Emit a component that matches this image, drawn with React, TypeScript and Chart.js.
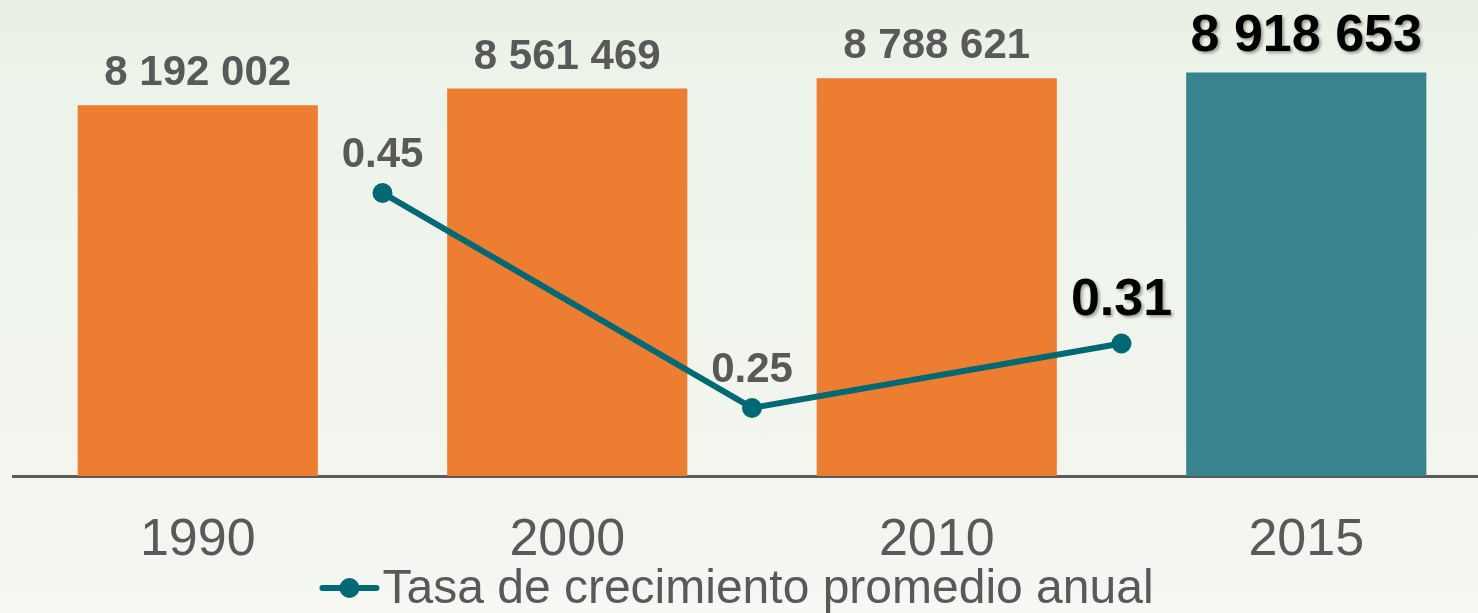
import React, { useEffect, useRef } from "react";
import { Chart, registerables } from "chart.js";

Chart.register(...registerables);

const categories = ["1990", "2000", "2010", "2015"];
const population = [8192002, 8561469, 8788621, 8918653];
const populationLabels = ["8 192 002", "8 561 469", "8 788 621", "8 918 653"];
const growthPositions = [0.5, 1.5, 2.5];
const growthRates = [0.45, 0.25, 0.31];
const growthLabels = ["0.45", "0.25", "0.31"];
const legendLabel = "Tasa de crecimiento promedio anual";

const FONT = "'Liberation Sans', Arial, sans-serif";
const GRAY = "#595959";
const ORANGE = "#ED7D31";
const TEAL_BAR = "#37838F";
const TEAL_LINE = "#006974";

const labelPlugin = {
  id: "valueLabels",
  afterDatasetsDraw(chart: any) {
    const ctx = chart.ctx;
    const barMeta = chart.getDatasetMeta(0);
    ctx.save();
    ctx.textAlign = "center";
    ctx.textBaseline = "alphabetic";
    barMeta.data.forEach((bar: any, i: number) => {
      const last = i === populationLabels.length - 1;
      ctx.save();
      if (last) {
        ctx.font = `bold 52px ${FONT}`;
        ctx.fillStyle = "#000000";
        ctx.shadowColor = "rgba(0,0,0,0.35)";
        ctx.shadowOffsetX = 2;
        ctx.shadowOffsetY = 2;
        ctx.shadowBlur = 3;
        ctx.fillText(populationLabels[i], bar.x, bar.y - 21);
      } else {
        ctx.font = `bold 42px ${FONT}`;
        ctx.fillStyle = GRAY;
        ctx.fillText(populationLabels[i], bar.x, bar.y - 20);
      }
      ctx.restore();
    });
    const lineMeta = chart.getDatasetMeta(1);
    lineMeta.data.forEach((pt: any, i: number) => {
      const last = i === growthLabels.length - 1;
      ctx.save();
      if (last) {
        ctx.font = `bold 52px ${FONT}`;
        ctx.fillStyle = "#000000";
        ctx.shadowColor = "rgba(0,0,0,0.35)";
        ctx.shadowOffsetX = 2;
        ctx.shadowOffsetY = 2;
        ctx.shadowBlur = 3;
        ctx.fillText(growthLabels[i], pt.x, pt.y - 28);
      } else {
        ctx.font = `bold 42px ${FONT}`;
        ctx.fillStyle = GRAY;
        ctx.fillText(growthLabels[i], pt.x, pt.y - 26);
      }
      ctx.restore();
    });
    ctx.restore();
  },
};

const legendPlugin = {
  id: "customLegend",
  afterDraw(chart: any) {
    const ctx = chart.ctx;
    ctx.save();
    ctx.font = `48px ${FONT}`;
    const tw = ctx.measureText(legendLabel).width;
    const lineW = 58;
    const gap = 4;
    const total = lineW + gap + tw;
    const cx = 737;
    const x0 = cx - total / 2;
    const y = chart.chartArea.bottom + 112;
    ctx.strokeStyle = TEAL_LINE;
    ctx.lineWidth = 6;
    ctx.lineCap = "round";
    ctx.beginPath();
    ctx.moveTo(x0 + 2, y);
    ctx.lineTo(x0 + lineW - 2, y);
    ctx.stroke();
    ctx.fillStyle = TEAL_LINE;
    ctx.beginPath();
    ctx.arc(x0 + lineW / 2, y, 10, 0, Math.PI * 2);
    ctx.fill();
    ctx.fillStyle = GRAY;
    ctx.textAlign = "left";
    ctx.textBaseline = "middle";
    ctx.fillText(legendLabel, x0 + lineW + gap, y + 2);
    ctx.restore();
  },
};

export default function App() {
  const ref = useRef<HTMLCanvasElement | null>(null);
  useEffect(() => {
    if (!ref.current) return;
    const chart = new Chart(ref.current, {
      type: "bar",
      data: {
        labels: categories,
        datasets: [
          {
            type: "bar",
            label: "Población",
            data: population,
            backgroundColor: [ORANGE, ORANGE, ORANGE, TEAL_BAR],
            barPercentage: 0.65,
            categoryPercentage: 1,
            grouped: false,
            xAxisID: "x",
            yAxisID: "y",
            order: 2,
          },
          {
            type: "line",
            label: legendLabel,
            data: growthPositions.map((x, i) => ({ x, y: growthRates[i] })),
            borderColor: TEAL_LINE,
            backgroundColor: TEAL_LINE,
            borderWidth: 6,
            pointRadius: 10,
            pointBackgroundColor: TEAL_LINE,
            pointBorderWidth: 0,
            xAxisID: "x2",
            yAxisID: "y2",
            order: 1,
            clip: false,
          } as any,
        ],
      },
      options: {
        animation: false,
        responsive: false,
        maintainAspectRatio: false,
        layout: { autoPadding: false, padding: { left: 13, right: 1, top: 0, bottom: 0 } },
        plugins: { legend: { display: false }, tooltip: { enabled: false } },
        scales: {
          x: {
            type: "category",
            offset: true,
            grid: { display: false, drawTicks: false },
            border: { display: true, color: GRAY, width: 3 },
            ticks: {
              color: GRAY,
              font: { family: FONT, size: 52 },
              padding: 33,
            },
            afterFit(scale: any) {
              scale.height = 137;
            },
          },
          x2: {
            type: "linear",
            display: false,
            offset: false,
            min: -0.5,
            max: 3.5,
          },
          y: {
            display: false,
            min: 0,
            max: 10520000,
          },
          y2: {
            display: false,
            min: 0.1867,
            max: 0.6295,
          },
        },
      },
      plugins: [labelPlugin, legendPlugin],
    } as any);
    return () => chart.destroy();
  }, []);

  return (
    <div
      style={{
        position: "fixed",
        left: 0,
        top: 0,
        width: 1478,
        height: 613,
        overflow: "hidden",
        background:
          "linear-gradient(to bottom, #e9f0e2 0%, #ecf3e9 12%, #eef4eb 35%, #f2f5ee 70%, #f4f6f1 95%, #f8f9f5 100%)",
      }}
    >
      <canvas ref={ref} width={1492} height={613} style={{ display: "block", width: 1492, height: 613 }} />
    </div>
  );
}
